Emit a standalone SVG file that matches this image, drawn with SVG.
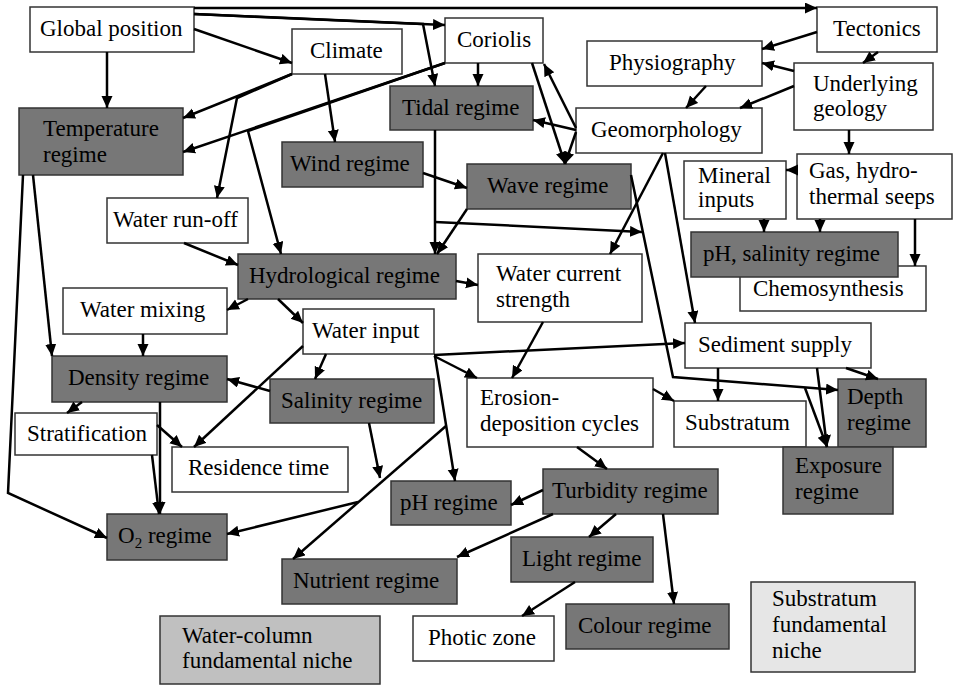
<svg xmlns="http://www.w3.org/2000/svg" width="954" height="687" viewBox="0 0 954 687">
<defs>
<marker id="ah" markerUnits="userSpaceOnUse" markerWidth="13" markerHeight="12" refX="12" refY="5.5" orient="auto">
<path d="M0,0 L12,5.5 L0,11 z" fill="#000"/>
</marker>
<style>
.b{fill:#fff;stroke:#333;stroke-width:1.5}
.d{fill:#777;stroke:#333;stroke-width:1.5}
.n1{fill:#c0c0c0;stroke:#333;stroke-width:1.5}
.n2{fill:#e6e6e6;stroke:#333;stroke-width:1.5}
text{font-family:"Liberation Serif","DejaVu Serif",serif;font-size:23px;fill:#000}
#connectors path{fill:none;stroke:#000;stroke-width:2.5;stroke-linejoin:miter;marker-end:url(#ah)}
</style>
</defs>
<rect width="954" height="687" fill="#fff"/>

<g id="global-position"><rect class="b" x="30" y="7" width="164" height="45"/><text x="40" y="36">Global position</text></g>
<g id="climate"><rect class="b" x="292" y="29" width="110" height="45"/><text x="310" y="58">Climate</text></g>
<g id="coriolis"><rect class="b" x="445" y="18" width="98" height="45"/><text x="457" y="47">Coriolis</text></g>
<g id="tectonics"><rect class="b" x="817" y="7" width="120" height="45"/><text x="833" y="36">Tectonics</text></g>
<g id="physiography"><rect class="b" x="587" y="41" width="175" height="45"/><text x="609" y="70">Physiography</text></g>
<g id="underlying-geology"><rect class="b" x="794" y="63" width="139" height="67"/><text x="813" y="91">Underlying</text><text x="813" y="116">geology</text></g>
<g id="geomorphology"><rect class="b" x="576" y="108" width="186" height="45"/><text x="591" y="137">Geomorphology</text></g>
<g id="tidal-regime"><rect class="d" x="390" y="86" width="143" height="44"/><text x="402" y="115">Tidal regime</text></g>
<g id="temperature-regime"><rect class="d" x="19" y="108" width="164" height="67"/><text x="43" y="136">Temperature</text><text x="43" y="162">regime</text></g>
<g id="wind-regime"><rect class="d" x="282" y="142" width="141" height="45"/><text x="290" y="171">Wind regime</text></g>
<g id="wave-regime"><rect class="d" x="467" y="164" width="164" height="45"/><text x="487" y="193">Wave regime</text></g>
<g id="water-run-off"><rect class="b" x="107" y="198" width="141" height="45"/><text x="113" y="227">Water run-off</text></g>
<g id="mineral-inputs"><rect class="b" x="684" y="161" width="102" height="58"/><text x="698" y="183">Mineral</text><text x="698" y="207">inputs</text></g>
<g id="gas-seeps"><rect class="b" x="797" y="154" width="155" height="65"/><text x="809" y="178">Gas, hydro-</text><text x="809" y="204">thermal seeps</text></g>
<g id="hydrological-regime"><rect class="d" x="238" y="254" width="218" height="45"/><text x="249" y="283">Hydrological regime</text></g>
<g id="water-current-strength"><rect class="b" x="478" y="254" width="164" height="68"/><text x="496" y="281">Water current</text><text x="496" y="307">strength</text></g>
<g id="chemosynthesis"><rect class="b" x="740" y="266" width="186" height="45"/><text x="753" y="296">Chemosynthesis</text></g>
<g id="ph-salinity-regime"><rect class="d" x="691" y="232" width="207" height="45"/><text x="703" y="261">pH, salinity regime</text></g>
<g id="water-mixing"><rect class="b" x="63" y="288" width="164" height="46"/><text x="80" y="317">Water mixing</text></g>
<g id="water-input"><rect class="b" x="303" y="309" width="131" height="45"/><text x="312" y="338">Water input</text></g>
<g id="sediment-supply"><rect class="b" x="685" y="323" width="186" height="45"/><text x="698" y="352">Sediment supply</text></g>
<g id="density-regime"><rect class="d" x="52" y="356" width="175" height="46"/><text x="68" y="385">Density regime</text></g>
<g id="salinity-regime"><rect class="d" x="270" y="379" width="164" height="44"/><text x="281" y="408">Salinity regime</text></g>
<g id="erosion-deposition"><rect class="b" x="467" y="378" width="186" height="69"/><text x="480" y="405">Erosion-</text><text x="480" y="431">deposition cycles</text></g>
<g id="substratum"><rect class="b" x="674" y="401" width="132" height="46"/><text x="685" y="430">Substratum</text></g>
<g id="depth-regime"><rect class="d" x="838" y="379" width="88" height="68"/><text x="847" y="404">Depth</text><text x="847" y="430">regime</text></g>
<g id="exposure-regime"><rect class="d" x="783" y="447" width="110" height="67"/><text x="795" y="473">Exposure</text><text x="795" y="499">regime</text></g>
<g id="stratification"><rect class="b" x="15" y="413" width="142" height="42"/><text x="27" y="441">Stratification</text></g>
<g id="residence-time"><rect class="b" x="172" y="447" width="176" height="45"/><text x="188" y="475">Residence time</text></g>
<g id="ph-regime"><rect class="d" x="391" y="481" width="120" height="44"/><text x="400" y="510">pH regime</text></g>
<g id="turbidity-regime"><rect class="d" x="543" y="469" width="175" height="45"/><text x="552" y="498">Turbidity regime</text></g>
<g id="o2-regime"><rect class="d" x="107" y="514" width="120" height="46"/><text x="118" y="543">O<tspan dy="5" font-size="15">2</tspan><tspan dy="-5"> regime</tspan></text></g>
<g id="light-regime"><rect class="d" x="511" y="537" width="142" height="45"/><text x="522" y="566">Light regime</text></g>
<g id="nutrient-regime"><rect class="d" x="282" y="559" width="175" height="45"/><text x="293" y="588">Nutrient regime</text></g>
<g id="water-column-niche"><rect class="n1" x="160" y="616" width="220" height="68"/><text x="182" y="643">Water-column</text><text x="182" y="668">fundamental niche</text></g>
<g id="photic-zone"><rect class="b" x="413" y="616" width="141" height="45"/><text x="428" y="645">Photic zone</text></g>
<g id="colour-regime"><rect class="d" x="566" y="604" width="163" height="45"/><text x="578" y="633">Colour regime</text></g>
<g id="substratum-niche"><rect class="n2" x="751" y="582" width="164" height="90"/><text x="772" y="606">Substratum</text><text x="772" y="632">fundamental</text><text x="772" y="658">niche</text></g>

<g id="connectors">
<path d="M107,52 L107,108"/>
<path d="M194,29 L292,63"/>
<path d="M194,14 L445,25"/>
<path d="M194,14 L423,24 L435,86"/>
<path d="M194,8 L817,8"/>
<path d="M292,74 L183,118"/>
<path d="M445,63 L183,152"/>
<path d="M292,74 L237,98 L217,198"/>
<path d="M445,63 L248,131 L281,254"/>
<path d="M325,74 L335,142"/>
<path d="M478,63 L478,86"/>
<path d="M532,63 L565,164"/>
<path d="M576,128 L544,64"/>
<path d="M576,130 L533,120"/>
<path d="M576,132 L565,164"/>
<path d="M817,32 L762,49"/>
<path d="M878,52 L863,63"/>
<path d="M794,71 L762,63"/>
<path d="M794,86 L740,108"/>
<path d="M706,86 L686,108"/>
<path d="M849,130 L849,154"/>
<path d="M797,170 L786,170"/>
<path d="M764,219 L764,232"/>
<path d="M820,219 L820,232"/>
<path d="M915,219 L915,266"/>
<path d="M423,173 L467,188"/>
<path d="M435,130 L435,254"/>
<path d="M467,209 L437,254"/>
<path d="M435,222 L642,232"/>
<path d="M631,175 L673,377 L838,390"/>
<path d="M663,153 L610,254"/>
<path d="M665,153 L695,323"/>
<path d="M184,243 L238,265"/>
<path d="M248,299 L227,310"/>
<path d="M278,299 L303,323"/>
<path d="M456,281 L478,285"/>
<path d="M543,322 L512,378"/>
<path d="M434,355 L685,343"/>
<path d="M434,356 L477,378"/>
<path d="M435,356 L455,481"/>
<path d="M326,354 L315,379"/>
<path d="M303,346 L194,447"/>
<path d="M270,391 L227,379"/>
<path d="M369,423 L380,478"/>
<path d="M358,502 L227,534"/>
<path d="M446,426 L293,559"/>
<path d="M33,175 L52,356"/>
<path d="M23,175 L8,493 L107,538"/>
<path d="M143,334 L143,356"/>
<path d="M82,402 L67,413"/>
<path d="M160,402 L160,514"/>
<path d="M157,425 L182,447"/>
<path d="M152,455 L159,514"/>
<path d="M653,389 L674,401"/>
<path d="M577,447 L607,469"/>
<path d="M718,368 L718,401"/>
<path d="M846,368 L878,379"/>
<path d="M817,368 L827,447"/>
<path d="M805,388 L827,447"/>
<path d="M543,490 L511,505"/>
<path d="M616,514 L589,537"/>
<path d="M663,514 L674,604"/>
<path d="M575,582 L522,616"/>
<path d="M553,514 L457,557"/>
</g>
</svg>
